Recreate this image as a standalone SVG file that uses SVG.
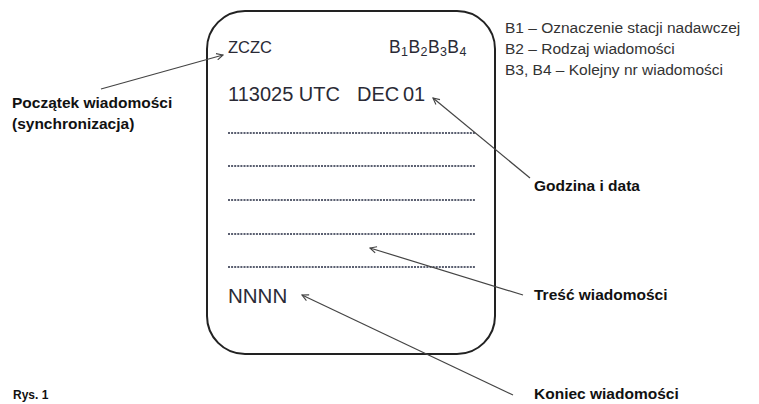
<svg xmlns="http://www.w3.org/2000/svg" width="759" height="404" viewBox="0 0 759 404">
<style>
.box{fill:none;stroke:#222;stroke-width:2}
.mono{font-family:"Liberation Sans",Arial,sans-serif;fill:#2a2a35}
.lbl{font-family:"Liberation Sans",Arial,sans-serif;font-weight:bold;font-size:15.5px;fill:#111}
.leg{font-family:"Liberation Sans",Arial,sans-serif;font-size:15.5px;fill:#333}
.dots{stroke:#5a5f70;stroke-width:1.8;stroke-dasharray:2 1.1}
.conn{stroke:#444;stroke-width:1.2;fill:none;marker-end:url(#ah)}
</style>
<defs>
<marker id="ah" viewBox="0 0 10 10" refX="9" refY="5" markerWidth="8" markerHeight="8" orient="auto" markerUnits="userSpaceOnUse">
<path d="M1,1 L9,5 L1,9" fill="none" stroke="#444" stroke-width="1.4"/>
</marker>
</defs>
<rect width="759" height="404" fill="#fff"/>
<g id="message">
<rect class="box" x="207" y="11" width="288" height="343" rx="38" ry="38"/>
<text class="mono" x="228" y="53" font-size="16.5">ZCZC</text>
<text class="mono" x="389" y="53" font-size="17.5" letter-spacing="0.4">B<tspan font-size="12.5" dy="3">1</tspan><tspan dy="-3">B</tspan><tspan font-size="12.5" dy="3">2</tspan><tspan dy="-3">B</tspan><tspan font-size="12.5" dy="3">3</tspan><tspan dy="-3">B</tspan><tspan font-size="12.5" dy="3">4</tspan></text>
<text class="mono" x="228" y="101" font-size="20">113025 UTC<tspan x="357">DEC</tspan><tspan x="403">01</tspan></text>
<line class="dots" x1="228" y1="133" x2="475" y2="133"/>
<line class="dots" x1="228" y1="166" x2="475" y2="166"/>
<line class="dots" x1="228" y1="200" x2="475" y2="200"/>
<line class="dots" x1="228" y1="234" x2="475" y2="234"/>
<line class="dots" x1="228" y1="267" x2="475" y2="267"/>
<text class="mono" x="228" y="303" font-size="20.5">NNNN</text>
</g>
<g id="legend">
<text class="leg" x="505" y="33">B1 – Oznaczenie stacji nadawczej</text>
<text class="leg" x="505" y="54">B2 – Rodzaj wiadomości</text>
<text class="leg" x="505" y="75">B3, B4 – Kolejny nr wiadomości</text>
</g>
<g id="label-start">
<text class="lbl" x="12" y="108">Początek wiadomości</text>
<text class="lbl" x="12" y="129">(synchronizacja)</text>
</g>
<g id="label-time">
<text class="lbl" x="534" y="191">Godzina i data</text>
</g>
<g id="label-content">
<text class="lbl" x="534" y="300">Treść wiadomości</text>
</g>
<g id="label-end">
<text class="lbl" x="534" y="399">Koniec wiadomości</text>
</g>
<g id="caption">
<text x="13" y="399" font-family="Liberation Sans,Arial,sans-serif" font-weight="bold" font-size="12" fill="#111">Rys. 1</text>
</g>
<g id="connectors">
<line class="conn" x1="101" y1="89" x2="223" y2="55"/>
<line class="conn" x1="530" y1="178" x2="433" y2="98"/>
<line class="conn" x1="523" y1="295" x2="370" y2="248"/>
<line class="conn" x1="513" y1="395" x2="302" y2="295"/>
</g>
</svg>
